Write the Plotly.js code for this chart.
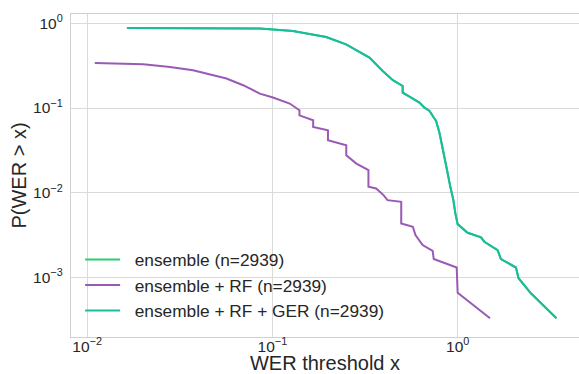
<!DOCTYPE html>
<html>
<head>
<meta charset="utf-8">
<script src="https://cdn.plot.ly/plotly-3.0.1.min.js"></script>
<style>html,body{margin:0;padding:0;background:#fff;}#chart{width:579px;height:374px;}</style>
</head>
<body>
<div id="chart"></div>
<script>
// Survival curves P(WER > x)
const gerWer  = [0.0164, 0.05, 0.0855, 0.129, 0.195, 0.250, 0.334, 0.394, 0.447, 0.505, 0.505, 0.561, 0.622, 0.662, 0.705, 0.749, 0.765, 0.797, 0.830, 0.866, 0.913, 0.948, 0.972, 1.0, 1.132, 1.337, 1.393, 1.643, 1.713, 2.063, 2.132, 2.486, 3.414];
const gerP    = [0.880, 0.875, 0.866, 0.811, 0.689, 0.565, 0.394, 0.274, 0.213, 0.182, 0.152, 0.133, 0.116, 0.101, 0.0925, 0.0752, 0.0705, 0.0514, 0.0318, 0.0211, 0.01174, 0.00818, 0.0057, 0.00426, 0.00337, 0.00297, 0.00264, 0.0021, 0.00165, 0.00131, 0.00098, 0.00065, 0.00033];
const ensembleWer = gerWer.slice();
const ensembleP   = gerP.slice();
const rfWer = [0.0110, 0.0201, 0.028, 0.0373, 0.0565, 0.0695, 0.0855, 0.1007, 0.124, 0.140, 0.140, 0.166, 0.166, 0.1995, 0.1995, 0.2505, 0.2505, 0.284, 0.330, 0.330, 0.363, 0.398, 0.418, 0.496, 0.496, 0.573, 0.592, 0.647, 0.733, 0.743, 0.988, 1.0, 1.495];
const rfP   = [0.340, 0.329, 0.305, 0.279, 0.223, 0.186, 0.148, 0.133, 0.113, 0.094, 0.082, 0.0718, 0.0598, 0.0547, 0.0417, 0.0364, 0.0277, 0.0221, 0.0185, 0.01175, 0.01124, 0.00937, 0.00818, 0.00781, 0.00434, 0.00396, 0.00316, 0.00241, 0.00206, 0.00165, 0.00131, 0.00066, 0.00033];
const seriesNames = ['ensemble (n=2939)', 'ensemble + RF (n=2939)', 'ensemble + RF + GER (n=2939)'];
const xTickVals = [0.01, 0.1, 1];
const xTickText = ['10<sup>−2</sup>', '10<sup>−1</sup>', '10<sup>0</sup>'];
const yTickVals = [0.001, 0.01, 0.1, 1];
const yTickText = ['10<sup>−3</sup>', '10<sup>−2</sup>', '10<sup>−1</sup>', '10<sup>0</sup>'];

const FONT = 'Liberation Sans, Arial, sans-serif';
const TXT = '#262626';
const GAP = '\u00a0\u00a0';

const traces = [
  {x: ensembleWer, y: ensembleP, name: GAP + seriesNames[0], mode: 'lines', legendgroup: 'a',
   line: {color: '#2ecc71', width: 2}},
  {x: rfWer, y: rfP, name: GAP + seriesNames[1], mode: 'lines', legendgroup: 'b',
   line: {color: '#9b59b6', width: 2}},
  {x: gerWer, y: gerP, name: GAP + seriesNames[2], mode: 'lines', legendgroup: 'c',
   line: {color: '#1abc9c', width: 2}}
];

const axisCommon = {
  type: 'log', showgrid: true, gridcolor: '#dadada', gridwidth: 1,
  showline: true, mirror: true, linecolor: '#d0d0d0', linewidth: 1.2,
  zeroline: false, ticks: '', tickmode: 'array',
  tickfont: {family: FONT, size: 15.5, color: TXT}
};

const layout = {
  width: 579, height: 374,
  margin: {l: 71, r: 0, t: 14, b: 37},
  paper_bgcolor: '#ffffff', plot_bgcolor: '#ffffff',
  font: {family: FONT, color: TXT},
  showlegend: true,
  xaxis: Object.assign({}, axisCommon, {
    range: [-2.087, 0.655], tickvals: xTickVals, ticktext: xTickText,
    ticklabelstandoff: -5,
    title: {text: 'WER threshold x', font: {family: FONT, size: 20, color: TXT}, standoff: 10}
  }),
  yaxis: Object.assign({}, axisCommon, {
    range: [-3.703, 0.11], tickvals: yTickVals, ticktext: yTickText,
    ticklabelstandoff: 4,
    title: {text: 'P(WER > x)', font: {family: FONT, size: 20, color: TXT}, standoff: 1}
  }),
  legend: {
    x: 0.018, y: 0.295, xanchor: 'left', yanchor: 'top',
    bgcolor: 'rgba(0,0,0,0)', borderwidth: 0,
    font: {family: FONT, size: 17.3, color: TXT},
    traceorder: 'grouped', tracegroupgap: 0, itemwidth: 35
  }
};

Plotly.newPlot('chart', traces, layout, {staticPlot: true, displayModeBar: false});
</script>
</body>
</html>
